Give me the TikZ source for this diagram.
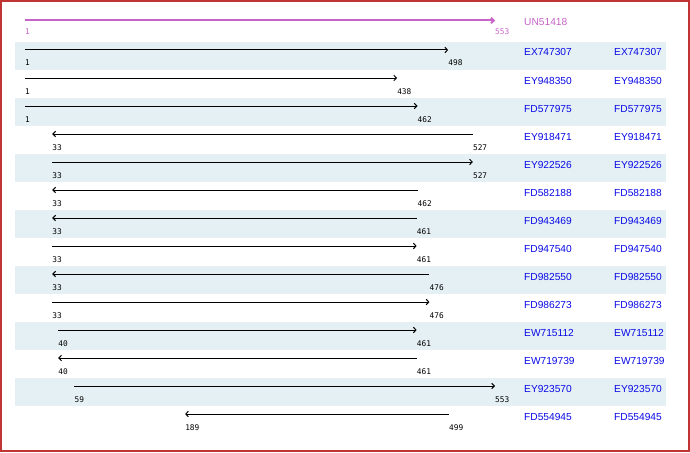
\documentclass[tikz,border=0pt]{standalone}
\usepackage{fontspec}
\setmainfont{Liberation Sans}
\newfontfamily\numfont{DejaVu Sans Mono}
\usepackage{xcolor}
\usetikzlibrary{arrows.meta,positioning}

\definecolor{framered}{HTML}{C03434}
\definecolor{bandblue}{HTML}{E4F0F4}
\definecolor{accblue}{HTML}{0A0AE6}
\definecolor{querymag}{HTML}{C864C8}

% sequence position -> pixel column
\newcommand{\seqx}[1]{25+(#1-1)*0.85145}

\begin{document}
\begin{tikzpicture}[
    x=1pt, y=-1pt,
    frame/.style={draw=framered, line width=2pt},
    band/.style={fill=bandblue},
    fwd/.style={-{Straight Barb[length=2.6pt,width=5.5pt]}, line width=1pt},
    rev/.style={{Straight Barb[length=2.6pt,width=5.5pt]}-, line width=1pt},
    query/.style={-{Straight Barb[length=2.6pt,width=5.5pt]}, line width=2pt, draw=querymag},
    num/.style={font=\numfont\fontsize{7.8}{8}\selectfont, inner sep=0pt, anchor=base west, yshift=-16pt},
    acc/.style={font=\fontsize{10.2}{11}\selectfont, text=accblue, inner sep=0pt, anchor=base west}
]
\useasboundingbox (0,0) rectangle (690,452);
\fill[white] (0,0) rectangle (690,452);

% shaded rows
\fill[band] (15,42) rectangle (666,70);
\fill[band] (15,98) rectangle (666,126);
\fill[band] (15,154) rectangle (666,182);
\fill[band] (15,210) rectangle (666,238);
\fill[band] (15,266) rectangle (666,294);
\fill[band] (15,322) rectangle (666,350);
\fill[band] (15,378) rectangle (666,406);

% query
\coordinate (s0) at ({\seqx{1}},20.5);   \coordinate (e0) at ({\seqx{553}},20.5);
\draw[query] (s0) -- (e0);
\node[num, text=querymag, yshift=2pt] (s0n) at (s0) {1};
\node[num, text=querymag, yshift=2pt] (e0n) at (e0) {553};
\node[acc, text=querymag] (a0) at (524,26) {UN51418};

% hits
\coordinate (s1) at ({\seqx{1}},50);     \coordinate (e1) at ({\seqx{498}},50);
\draw[fwd] (s1) -- (e1);
\node[num] (s1n) at (s1) {1};   \node[num] (e1n) at (e1) {498};
\node[acc] (a1) at (524,56) {EX747307};  \node[acc] (b1) at (614,56) {EX747307};

\coordinate (s2) at ({\seqx{1}},78);     \coordinate (e2) at ({\seqx{438}},78);
\draw[fwd] (s2) -- (e2);
\node[num] (s2n) at (s2) {1};   \node[num] (e2n) at (e2) {438};
\node[acc] (a2) at (524,84) {EY948350};  \node[acc] (b2) at (614,84) {EY948350};

\coordinate (s3) at ({\seqx{1}},106);    \coordinate (e3) at ({\seqx{462}},106);
\draw[fwd] (s3) -- (e3);
\node[num] (s3n) at (s3) {1};   \node[num] (e3n) at (e3) {462};
\node[acc] (a3) at (524,112) {FD577975}; \node[acc] (b3) at (614,112) {FD577975};

\coordinate (s4) at ({\seqx{33}},134);   \coordinate (e4) at ({\seqx{527}},134);
\draw[rev] (s4) -- (e4);
\node[num] (s4n) at (s4) {33};  \node[num] (e4n) at (e4) {527};
\node[acc] (a4) at (524,140) {EY918471}; \node[acc] (b4) at (614,140) {EY918471};

\coordinate (s5) at ({\seqx{33}},162);   \coordinate (e5) at ({\seqx{527}},162);
\draw[fwd] (s5) -- (e5);
\node[num] (s5n) at (s5) {33};  \node[num] (e5n) at (e5) {527};
\node[acc] (a5) at (524,168) {EY922526}; \node[acc] (b5) at (614,168) {EY922526};

\coordinate (s6) at ({\seqx{33}},190);   \coordinate (e6) at ({\seqx{462}},190);
\draw[rev] (s6) -- (e6);
\node[num] (s6n) at (s6) {33};  \node[num] (e6n) at (e6) {462};
\node[acc] (a6) at (524,196) {FD582188}; \node[acc] (b6) at (614,196) {FD582188};

\coordinate (s7) at ({\seqx{33}},218);   \coordinate (e7) at ({\seqx{461}},218);
\draw[rev] (s7) -- (e7);
\node[num] (s7n) at (s7) {33};  \node[num] (e7n) at (e7) {461};
\node[acc] (a7) at (524,224) {FD943469}; \node[acc] (b7) at (614,224) {FD943469};

\coordinate (s8) at ({\seqx{33}},246);   \coordinate (e8) at ({\seqx{461}},246);
\draw[fwd] (s8) -- (e8);
\node[num] (s8n) at (s8) {33};  \node[num] (e8n) at (e8) {461};
\node[acc] (a8) at (524,252) {FD947540}; \node[acc] (b8) at (614,252) {FD947540};

\coordinate (s9) at ({\seqx{33}},274);   \coordinate (e9) at ({\seqx{476}},274);
\draw[rev] (s9) -- (e9);
\node[num] (s9n) at (s9) {33};  \node[num] (e9n) at (e9) {476};
\node[acc] (a9) at (524,280) {FD982550}; \node[acc] (b9) at (614,280) {FD982550};

\coordinate (s10) at ({\seqx{33}},302);  \coordinate (e10) at ({\seqx{476}},302);
\draw[fwd] (s10) -- (e10);
\node[num] (s10n) at (s10) {33};  \node[num] (e10n) at (e10) {476};
\node[acc] (a10) at (524,308) {FD986273}; \node[acc] (b10) at (614,308) {FD986273};

\coordinate (s11) at ({\seqx{40}},330);  \coordinate (e11) at ({\seqx{461}},330);
\draw[fwd] (s11) -- (e11);
\node[num] (s11n) at (s11) {40};  \node[num] (e11n) at (e11) {461};
\node[acc] (a11) at (524,336) {EW715112}; \node[acc] (b11) at (614,336) {EW715112};

\coordinate (s12) at ({\seqx{40}},358);  \coordinate (e12) at ({\seqx{461}},358);
\draw[rev] (s12) -- (e12);
\node[num] (s12n) at (s12) {40};  \node[num] (e12n) at (e12) {461};
\node[acc] (a12) at (524,364) {EW719739}; \node[acc] (b12) at (614,364) {EW719739};

\coordinate (s13) at ({\seqx{59}},386);  \coordinate (e13) at ({\seqx{553}},386);
\draw[fwd] (s13) -- (e13);
\node[num] (s13n) at (s13) {59};  \node[num] (e13n) at (e13) {553};
\node[acc] (a13) at (524,392) {EY923570}; \node[acc] (b13) at (614,392) {EY923570};

\coordinate (s14) at ({\seqx{189}},414); \coordinate (e14) at ({\seqx{499}},414);
\draw[rev] (s14) -- (e14);
\node[num] (s14n) at (s14) {189}; \node[num] (e14n) at (e14) {499};
\node[acc] (a14) at (524,420) {FD554945}; \node[acc] (b14) at (614,420) {FD554945};

\draw[frame] (1,1) rectangle (689,451);
\end{tikzpicture}
\end{document}
